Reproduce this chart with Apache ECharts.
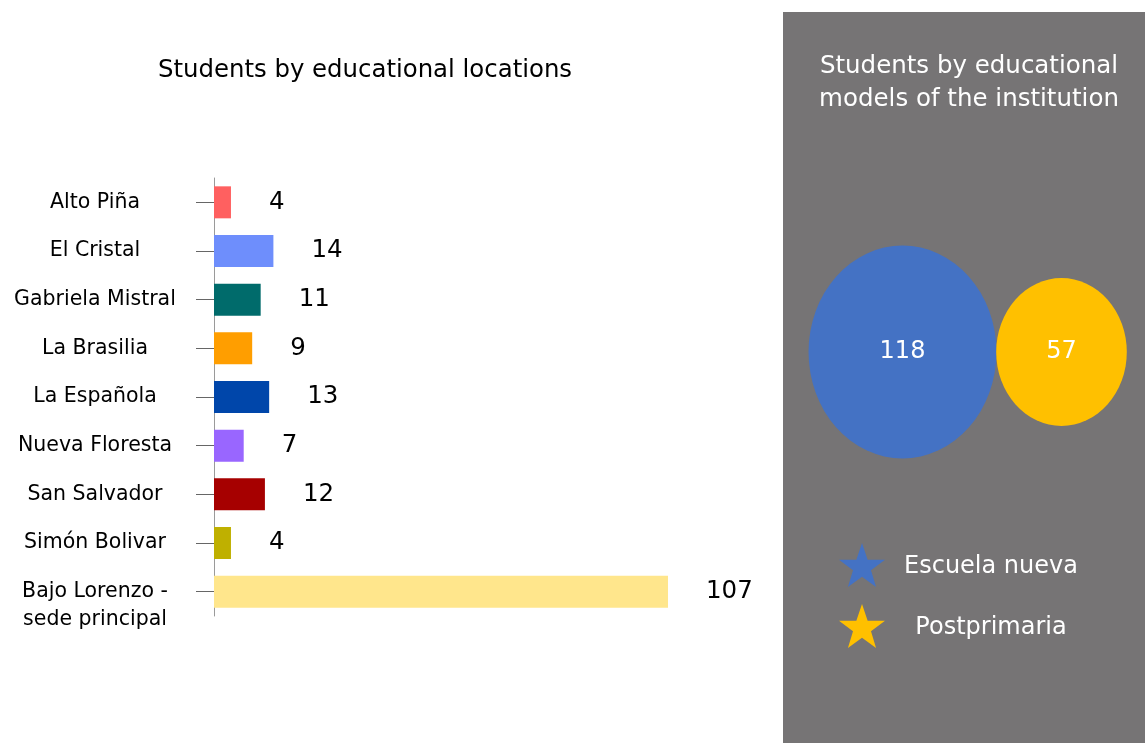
<!DOCTYPE html>
<html>
<head>
<meta charset="utf-8">
<script src="https://cdn.jsdelivr.net/npm/echarts@6/dist/echarts.min.js"></script>
<style>html,body{margin:0;padding:0;background:#fff}#c{width:1145px;height:743px}</style>
</head>
<body>
<div id="c"></div>
<script>
const locations = ['Alto Piña','El Cristal','Gabriela Mistral','La Brasilia','La Española','Nueva Floresta','San Salvador','Simón Bolivar','Bajo Lorenzo -\nsede principal'];
const students = [4, 14, 11, 9, 13, 7, 12, 4, 107];
const barColors = ['#FF6060','#6E8EFC','#006B6B','#FF9E00','#0046AA','#9966FF','#A60000','#BFB000','#FFE68C'];
const models = ['Escuela nueva','Postprimaria'];
const modelStudents = [118, 57];
const modelColors = ['#4472C4','#FFC000'];
const starPath = 'path://M50,0 L61.8,35.1 L98.1,35.1 L68.8,57 L79.4,91.9 L50,70.7 L20.6,91.9 L31.2,57 L1.9,35.1 L38.2,35.1 Z';
const FONT = 'DejaVu Sans';

const chart = echarts.init(document.getElementById('c'), null, {renderer: 'canvas'});
const modelSeries = models.map((m, i) => ({
  name: m,
  type: 'scatter',
  xAxisIndex: 1,
  yAxisIndex: 1,
  data: [[m, 0, modelStudents[i]]],
  symbol: 'circle',
  symbolSize: function (d) { const s = Math.sqrt(d[2]); return [s * 17.3, s * 19.6]; },
  itemStyle: {color: modelColors[i], opacity: 1},
  label: {show: true, position: 'inside', color: '#fff', fontFamily: FONT, fontSize: 24,
          formatter: p => p.data[2]},
  emphasis: {disabled: true},
  silent: true
}));

chart.setOption({
  animation: false,
  backgroundColor: '#fff',
  graphic: [{type: 'rect', left: 783, top: 12, shape: {width: 362, height: 731}, style: {fill: '#767475'}, z: -10}],
  title: [
    {text: 'Students by educational locations', left: 360, top: 54, textAlign: 'center',
     textStyle: {fontFamily: FONT, fontWeight: 'normal', fontSize: 24.4, color: '#000'}},
    {text: 'Students by educational\nmodels of the institution', left: 964, top: 45, textAlign: 'center',
     textStyle: {fontFamily: FONT, fontWeight: 'normal', fontSize: 24.5, color: '#fff', lineHeight: 33}}
  ],
  legend: {
    data: models,
    orient: 'vertical',
    left: 834, top: 538,
    itemWidth: 46, itemHeight: 46, itemGap: 17,
    icon: starPath,
    selectedMode: false,
    formatter: name => '{a|' + name + '}',
    textStyle: {fontFamily: FONT, fontSize: 24, color: '#fff',
                rich: {a: {fontFamily: FONT, fontSize: 24, color: '#fff', width: 202, align: 'center', padding: [4, 0, 0, 0]}}}
  },
  grid: [
    {left: 214, width: 454, top: 178, height: 438, containLabel: false},
    {left: 823, width: 318, top: 252, height: 200, containLabel: false}
  ],
  xAxis: [
    {type: 'value', gridIndex: 0, min: 0, max: 'dataMax', show: false},
    {type: 'category', gridIndex: 1, data: models, show: false}
  ],
  yAxis: [
    {type: 'category', gridIndex: 0, data: locations, inverse: true,
     axisLine: {show: true, lineStyle: {color: '#9a9a9a', width: 1}},
     axisTick: {show: true, alignWithLabel: true, length: 18, lineStyle: {color: '#666'}},
     axisLabel: {fontFamily: FONT, fontSize: 20.5, color: '#000', align: 'center', margin: 119,
                 lineHeight: 28, interval: 0,
                 formatter: v => v.indexOf('\n') >= 0 ? '{s| }\n{t|' + v.split('\n').join('}\n{t|') + '}' : v,
                 rich: {t: {fontFamily: FONT, fontSize: 20.5, color: '#000', lineHeight: 28, align: 'center'},
                        s: {fontFamily: FONT, fontSize: 20.5, lineHeight: 28}}}},
    {type: 'value', gridIndex: 1, min: -1, max: 1, show: false}
  ],
  series: [
    {type: 'bar', xAxisIndex: 0, yAxisIndex: 0, barWidth: 32,
     data: students.map((v, i) => ({value: v, itemStyle: {color: barColors[i]}})),
     label: {show: true, position: 'right', distance: 38, fontFamily: FONT, fontSize: 24.5, color: '#000'},
     silent: true}
  ].concat(modelSeries)
});
</script>
</body>
</html>
